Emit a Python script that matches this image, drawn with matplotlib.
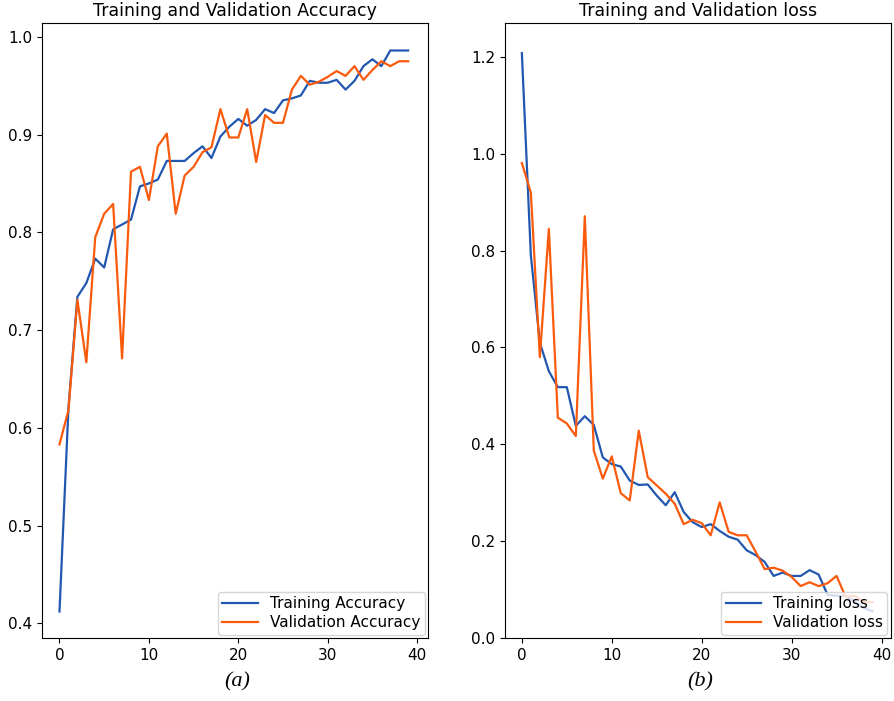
import numpy as np
import matplotlib
matplotlib.use("Agg")
import matplotlib.pyplot as plt

# training history (40 epochs)
epochs = np.arange(40)

train_acc = [0.412, 0.62, 0.734, 0.748, 0.773, 0.764, 0.803, 0.808, 0.813, 0.847,
             0.850, 0.854, 0.873, 0.873, 0.873, 0.881, 0.888, 0.876, 0.898, 0.908,
             0.916, 0.909, 0.915, 0.926, 0.922, 0.935, 0.937, 0.940, 0.955, 0.953,
             0.953, 0.956, 0.946, 0.955, 0.970, 0.977, 0.970, 0.986, 0.986, 0.986]
val_acc = [0.583, 0.618, 0.731, 0.667, 0.795, 0.819, 0.829, 0.671, 0.862, 0.867,
           0.833, 0.888, 0.901, 0.819, 0.858, 0.867, 0.882, 0.887, 0.926, 0.897,
           0.897, 0.926, 0.872, 0.920, 0.912, 0.912, 0.946, 0.960, 0.951, 0.954,
           0.959, 0.965, 0.960, 0.970, 0.956, 0.966, 0.975, 0.970, 0.975, 0.975]

train_loss = [1.208, 0.79, 0.61, 0.551, 0.518, 0.518, 0.438, 0.458, 0.440, 0.373,
              0.359, 0.354, 0.325, 0.316, 0.317, 0.294, 0.274, 0.301, 0.260, 0.239,
              0.229, 0.235, 0.221, 0.209, 0.203, 0.181, 0.171, 0.157, 0.128, 0.135,
              0.128, 0.128, 0.140, 0.131, 0.089, 0.087, 0.087, 0.075, 0.062, 0.055]
val_loss = [0.981, 0.920, 0.580, 0.845, 0.455, 0.443, 0.417, 0.871, 0.387, 0.329,
            0.375, 0.299, 0.284, 0.428, 0.332, 0.315, 0.298, 0.277, 0.235, 0.244,
            0.237, 0.212, 0.280, 0.219, 0.212, 0.212, 0.178, 0.142, 0.145, 0.139,
            0.126, 0.107, 0.115, 0.107, 0.113, 0.128, 0.085, 0.087, 0.075, 0.074]

BLUE = '#2257b0'
ORANGE = '#fa5a0c'

fig = plt.figure(figsize=(8.95, 7.01), dpi=100)
ax1 = fig.add_axes([0.047, 0.090, 0.431, 0.877])
ax2 = fig.add_axes([0.564, 0.090, 0.431, 0.877])

leg_kw = dict(loc='lower right', fontsize=11, labelspacing=0.25, borderpad=0.3,
              borderaxespad=0.2, handlelength=2.3)

ax1.plot(epochs, train_acc, color=BLUE, lw=1.6, label='Training Accuracy')
ax1.plot(epochs, val_acc, color=ORANGE, lw=1.6, label='Validation Accuracy')
ax1.legend(**leg_kw)
ax1.set_title('Training and Validation Accuracy', fontsize=12.5, pad=5)

ax2.plot(epochs, train_loss, color=BLUE, lw=1.6, label='Training loss')
ax2.plot(epochs, val_loss, color=ORANGE, lw=1.6, label='Validation loss')
ax2.legend(**leg_kw)
ax2.set_title('Training and Validation loss', fontsize=12.5, pad=5)
ax2.set_ylim(0.0, 1.27)

for ax in (ax1, ax2):
    ax.set_xticks([0, 10, 20, 30, 40])
    ax.tick_params(labelsize=11)
ax1.set_xlim(-1.95, 41.2)
ax1.set_ylim(0.385, 1.014)
ax2.set_xlim(-1.9, 41.0)

fig.text(0.265, 0.020, '(a)', fontsize=16, style='italic', family='Liberation Serif', ha='center')
fig.text(0.782, 0.020, '(b)', fontsize=16, style='italic', family='Liberation Serif', ha='center')

fig.savefig('out.png', dpi=100)
